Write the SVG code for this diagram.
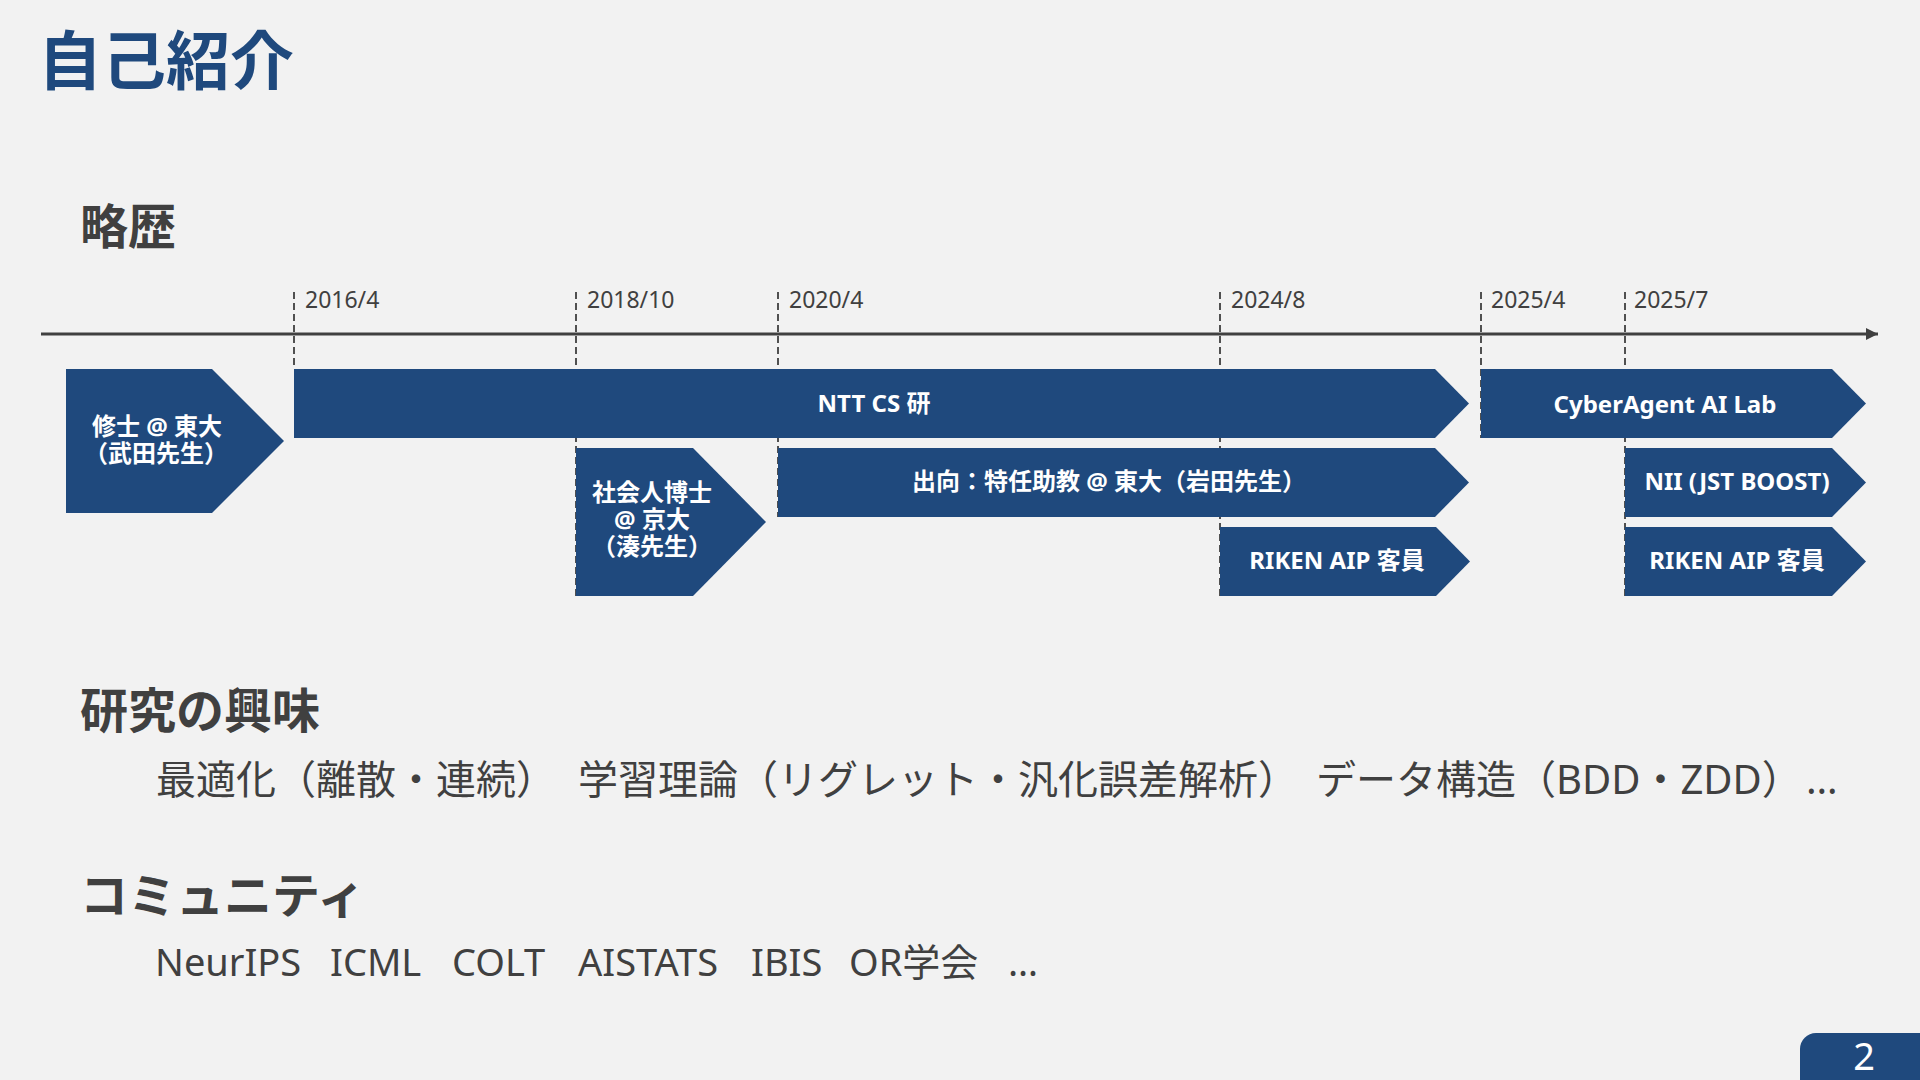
<svg xmlns="http://www.w3.org/2000/svg" width="1920" height="1080" viewBox="0 0 1920 1080">
  <defs>
    <style>
      .bg { fill: #F2F2F2; }
      .box { fill: #1F497D; }
      .lbl { font-family: "Noto Sans", "Noto Sans CJK JP", sans-serif; font-weight: bold; font-size: 24px; fill: #FFFFFF; text-anchor: middle; }
      .date { font-family: "Noto Sans", "Noto Sans CJK JP", sans-serif; font-size: 23px; fill: #404040; }
      .head { font-family: "Noto Sans CJK JP", sans-serif; font-weight: bold; font-size: 48px; fill: #404040; }
      .body { font-family: "Noto Sans", "Noto Sans CJK JP", sans-serif; font-size: 40px; fill: #404040; }
      .comm { font-family: "Noto Sans", "Noto Sans CJK JP", sans-serif; font-size: 38px; fill: #404040; }
      .guide { stroke: #505050; stroke-width: 2; stroke-dasharray: 7 4; fill: none; }
      .axis { stroke: #404040; stroke-width: 3; fill: none; }
    </style>
    <marker id="arrow" markerUnits="userSpaceOnUse" markerWidth="13" markerHeight="13" refX="12" refY="6" orient="auto">
      <path d="M0,0 L12,6 L0,12 Z" fill="#404040"/>
    </marker>
  </defs>

  <rect class="bg" x="0" y="0" width="1920" height="1080"/>

  <!-- Title -->
  <text x="38" y="84" font-family="'Noto Sans CJK JP', sans-serif" font-weight="bold" font-size="64" fill="#1F497D">自己紹介</text>

  <!-- Section headings -->
  <text class="head" x="80" y="244" font-size="47">略歴</text>
  <text class="head" x="80" y="728">研究の興味</text>
  <text class="head" x="80" y="913">コミュニティ</text>

  <!-- Timeline connectors: axis and date guides -->
  <g id="connectors">
    <line class="axis" x1="41" y1="334" x2="1878" y2="334" marker-end="url(#arrow)"/>
    <line class="guide" x1="294" y1="292" x2="294" y2="369"/>
    <line class="guide" x1="576" y1="292" x2="576" y2="596"/>
    <line class="guide" x1="778" y1="292" x2="778" y2="517"/>
    <line class="guide" x1="1220" y1="292" x2="1220" y2="596"/>
    <line class="guide" x1="1481" y1="292" x2="1481" y2="438"/>
    <line class="guide" x1="1625" y1="292" x2="1625" y2="596"/>
  </g>

  <!-- Date labels -->
  <g id="dates">
    <text class="date" x="305" y="308">2016/4</text>
    <text class="date" x="587" y="308">2018/10</text>
    <text class="date" x="789" y="308">2020/4</text>
    <text class="date" x="1231" y="308">2024/8</text>
    <text class="date" x="1491" y="308">2025/4</text>
    <text class="date" x="1634" y="308">2025/7</text>
  </g>

  <!-- Nodes -->
  <g id="node-master">
    <path class="box" d="M66,369 H212 L284,441 L212,513 H66 Z"/>
    <text class="lbl"><tspan x="157" y="435">修士 @ 東大</tspan><tspan x="156" y="462">（武田先生）</tspan></text>
  </g>

  <g id="node-ntt">
    <path class="box" d="M294,369 H1435 L1469,403.5 L1435,438 H294 Z"/>
    <text class="lbl" x="874" y="412">NTT CS 研</text>
  </g>

  <g id="node-phd">
    <path class="box" d="M576,448 H693 L766,522 L693,596 H576 Z"/>
    <text class="lbl"><tspan x="652" y="501">社会人博士</tspan><tspan x="652" y="528">@ 京大</tspan><tspan x="652" y="555">（湊先生）</tspan></text>
  </g>

  <g id="node-utokyo">
    <path class="box" d="M778,448 H1435 L1469,482.5 L1435,517 H778 Z"/>
    <text class="lbl" x="1109" y="490">出向：特任助教 @ 東大（岩田先生）</text>
  </g>

  <g id="node-riken1">
    <path class="box" d="M1220,527 H1436 L1470,561.5 L1436,596 H1220 Z"/>
    <text class="lbl" x="1337" y="569">RIKEN AIP 客員</text>
  </g>

  <g id="node-cyberagent">
    <path class="box" d="M1481,369 H1832 L1866,403.5 L1832,438 H1481 Z"/>
    <text class="lbl" x="1665" y="413">CyberAgent AI Lab</text>
  </g>

  <g id="node-nii">
    <path class="box" d="M1625,448 H1832 L1866,482.5 L1832,517 H1625 Z"/>
    <text class="lbl" x="1737" y="490">NII (JST BOOST)</text>
  </g>

  <g id="node-riken2">
    <path class="box" d="M1625,527 H1832 L1866,561.5 L1832,596 H1625 Z"/>
    <text class="lbl" x="1737" y="569">RIKEN AIP 客員</text>
  </g>

  <!-- Research interests -->
  <g id="interests">
    <text class="body" x="156" y="794">最適化（離散・連続）</text>
    <text class="body" x="578" y="794">学習理論（リグレット・汎化誤差解析）</text>
    <text class="body" x="1316" y="794">データ構造（BDD・ZDD）</text>
    <text class="body" x="1806" y="794">…</text>
  </g>

  <!-- Community -->
  <g id="community">
    <text class="comm" x="155" y="976">NeurIPS</text>
    <text class="comm" x="330" y="976">ICML</text>
    <text class="comm" x="452" y="976">COLT</text>
    <text class="comm" x="578" y="976">AISTATS</text>
    <text class="comm" x="751" y="976">IBIS</text>
    <text class="comm" x="849" y="976">OR学会</text>
    <text class="comm" x="1008" y="976">…</text>
  </g>

  <!-- Page number -->
  <g id="page-number">
    <rect class="box" x="1800" y="1033" width="160" height="80" rx="16"/>
    <text x="1864" y="1070" font-family="'Noto Sans', sans-serif" font-size="38" fill="#FFFFFF" text-anchor="middle">2</text>
  </g>
</svg>
